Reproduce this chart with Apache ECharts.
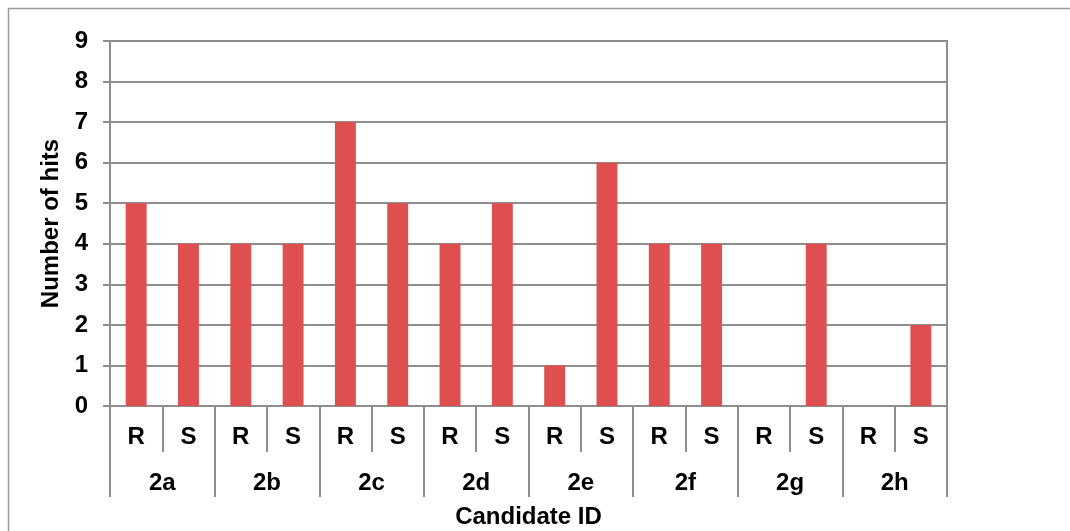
<!DOCTYPE html>
<html><head><meta charset="utf-8">
<script src="https://cdn.jsdelivr.net/npm/echarts@6/dist/echarts.min.js"></script>
<style>html,body{margin:0;padding:0;background:#fff}#c{width:1070px;height:531px}</style>
</head><body><div id="c"></div>
<script>
const groups = ['2a','2b','2c','2d','2e','2f','2g','2h'];
const subLabels = ['R','S'];
const rHits = [5,4,7,4,1,4,0,0];
const sHits = [4,4,5,5,6,4,4,2];
const yMin = 0, yMax = 9, yStep = 1;

const subCats = [], values = [];
groups.forEach((g,i)=>{ subCats.push(subLabels[0]); values.push(rHits[i]); subCats.push(subLabels[1]); values.push(sHits[i]); });

const FONT = '"Liberation Sans", Arial, sans-serif';
const FS = 24;
const GRAY = '#8e8e8e';
const chart = echarts.init(document.getElementById('c'), null, {renderer:'canvas'});
chart.setOption({
  animation:false,
  backgroundColor:'#fff',
  graphic:[{type:'rect', shape:{x:8.5,y:8.5,width:1100,height:600}, style:{fill:'none', stroke:'#9a9a9a', lineWidth:1.5}, silent:true, z:-1}],
  grid:{left:110, right:123, top:41, bottom:125, show:true, borderColor:GRAY, borderWidth:2, outerBoundsMode:'none'},
  xAxis:[
    {type:'category', data:subCats, position:'bottom',
     axisLine:{show:true, lineStyle:{color:GRAY, width:2}},
     axisTick:{show:true, interval:0, length:46, lineStyle:{color:GRAY, width:2}},
     axisLabel:{interval:0, margin:19, color:'#000', fontFamily:FONT, fontWeight:'bold', fontSize:FS}},
    {type:'category', data:groups, position:'bottom',
     axisLine:{show:false},
     axisTick:{show:true, interval:0, length:91, lineStyle:{color:GRAY, width:2}},
     axisLabel:{interval:0, margin:65, color:'#000', fontFamily:FONT, fontWeight:'bold', fontSize:FS},
     name:'Candidate ID', nameLocation:'middle', nameGap:99,
     nameTextStyle:{color:'#000', fontFamily:FONT, fontWeight:'bold', fontSize:FS}}
  ],
  yAxis:{type:'value', min:yMin, max:yMax, interval:yStep,
    axisLine:{show:true, lineStyle:{color:GRAY, width:2}},
    axisTick:{show:true, length:7, lineStyle:{color:GRAY, width:2}},
    splitLine:{show:true, lineStyle:{color:GRAY, width:2}},
    axisLabel:{margin:22, color:'#000', fontFamily:FONT, fontWeight:'bold', fontSize:FS},
    name:'Number of hits', nameLocation:'middle', nameGap:45,
    nameTextStyle:{color:'#000', fontFamily:FONT, fontWeight:'bold', fontSize:FS}},
  series:[{type:'bar', xAxisIndex:0, data:values, barWidth:'40%', itemStyle:{color:'#DF4F4F'}}]
});
</script></body></html>
